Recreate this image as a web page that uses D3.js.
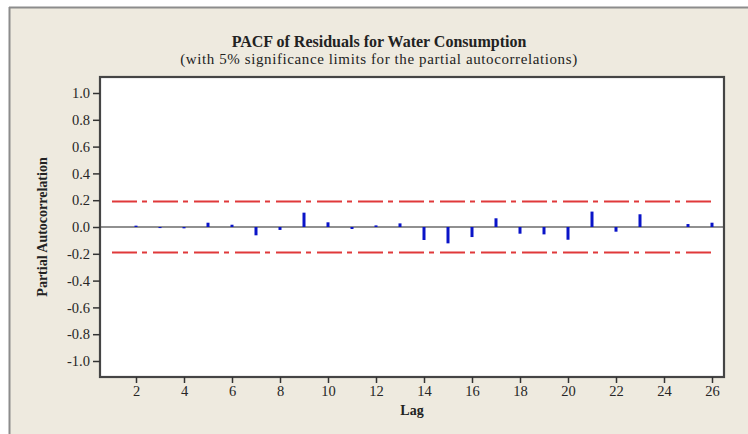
<!DOCTYPE html>
<html>
<head>
<meta charset="utf-8">
<script src="https://cdn.jsdelivr.net/npm/d3@7"></script>
<style>
  html, body { margin: 0; padding: 0; background: #ffffff; }
  svg { display: block; }
</style>
</head>
<body>
<svg id="chart" width="748" height="434"></svg>
<script>
// Partial autocorrelation of the residuals, lags 1..26
const lags = d3.range(1, 27);
const pacf = [0.000, 0.010, -0.008, -0.010, 0.032, 0.017, -0.062, -0.022, 0.107, 0.035,
              -0.015, 0.012, 0.027, -0.097, -0.122, -0.075, 0.065, -0.050, -0.055, -0.095,
              0.115, -0.035, 0.095, 0.000, 0.022, 0.032];
const significanceLimit = 0.19;
const xTickValues = [2, 4, 6, 8, 10, 12, 14, 16, 18, 20, 22, 24, 26];
const yTickValues = [1.0, 0.8, 0.6, 0.4, 0.2, 0.0, -0.2, -0.4, -0.6, -0.8, -1.0];

const titleText = "PACF of Residuals for Water Consumption";
const subtitleText = "(with 5% significance limits for the partial autocorrelations)";
const xLabel = "Lag";
const yLabel = "Partial Autocorrelation";

const svg = d3.select("#chart");
const serif = "'Liberation Serif', 'DejaVu Serif', serif";

// outer panel
svg.append("rect")
  .attr("x", 9).attr("y", 7).attr("width", 748 - 9).attr("height", 434 - 7)
  .attr("fill", "#eeeadf");
svg.append("line").attr("x1", 9.5).attr("x2", 9.5).attr("y1", 7).attr("y2", 434)
  .attr("stroke", "#8c8c8c").attr("stroke-width", 2);
svg.append("line").attr("x1", 9).attr("x2", 748).attr("y1", 7.5).attr("y2", 7.5)
  .attr("stroke", "#8c8c8c").attr("stroke-width", 2);

const plot = { left: 100, right: 724, top: 77, bottom: 377 };

const x = d3.scaleLinear().domain([0.5, 26.5]).range([plot.left, plot.right]);
const y = d3.scaleLinear().domain([-1.0, 1.0]).range([361, 93]);

// plot area
svg.append("rect")
  .attr("x", plot.left).attr("y", plot.top)
  .attr("width", plot.right - plot.left).attr("height", plot.bottom - plot.top)
  .attr("fill", "#ffffff");

// significance limits
[significanceLimit, -significanceLimit].forEach(v => {
  svg.append("line")
    .attr("x1", x(1)).attr("x2", x(26))
    .attr("y1", y(v)).attr("y2", y(v))
    .attr("stroke", "#e0393a").attr("stroke-width", 2)
    .attr("stroke-dasharray", "25,5,5,6");
});

// zero reference line
svg.append("line")
  .attr("x1", plot.left).attr("x2", plot.right)
  .attr("y1", y(0)).attr("y2", y(0))
  .attr("stroke", "#222222").attr("stroke-width", 1.2);

// PACF spikes
svg.append("g").selectAll("rect")
  .data(lags.map((l, i) => ({ lag: l, v: pacf[i] })))
  .join("rect")
  .attr("x", d => x(d.lag) - 1.5)
  .attr("width", 3)
  .attr("y", d => Math.min(y(d.v), y(0)))
  .attr("height", d => Math.abs(y(d.v) - y(0)))
  .attr("fill", "#0a14c8");

// plot frame
svg.append("rect")
  .attr("x", plot.left).attr("y", plot.top)
  .attr("width", plot.right - plot.left).attr("height", plot.bottom - plot.top)
  .attr("fill", "none").attr("stroke", "#454545").attr("stroke-width", 2.2);

// axes
const yAxis = d3.axisLeft(y).tickValues(yTickValues).tickSize(7).tickPadding(3)
  .tickFormat(d => d3.format(".1f")(d).replace("−", "-"));
const gy = svg.append("g").attr("transform", `translate(${plot.left},0)`).call(yAxis);
gy.select(".domain").remove();
gy.selectAll(".tick line").attr("stroke", "#333").attr("stroke-width", 1.5);
gy.selectAll("text").attr("font-family", serif).attr("font-size", 14.5).attr("fill", "#262626");

const xAxis = d3.axisBottom(x).tickValues(xTickValues).tickSize(6).tickPadding(3);
const gx = svg.append("g").attr("transform", `translate(0,${plot.bottom})`).call(xAxis);
gx.select(".domain").remove();
gx.selectAll(".tick line").attr("stroke", "#333").attr("stroke-width", 1.5);
gx.selectAll("text").attr("font-family", serif).attr("font-size", 14.5).attr("fill", "#262626");

// titles
svg.append("text")
  .attr("x", 379).attr("y", 47).attr("text-anchor", "middle")
  .attr("font-family", serif).attr("font-weight", "bold").attr("font-size", 16)
  .attr("fill", "#222").text(titleText);
svg.append("text")
  .attr("x", 379).attr("y", 64).attr("text-anchor", "middle")
  .attr("font-family", serif).attr("font-size", 15).attr("letter-spacing", 0.6)
  .attr("fill", "#222").text(subtitleText);
svg.append("text")
  .attr("x", (plot.left + plot.right) / 2).attr("y", 415).attr("text-anchor", "middle")
  .attr("font-family", serif).attr("font-weight", "bold").attr("font-size", 14)
  .attr("fill", "#222").text(xLabel);
svg.append("text")
  .attr("transform", `translate(47,${y(0)}) rotate(-90)`)
  .attr("text-anchor", "middle")
  .attr("font-family", serif).attr("font-weight", "bold").attr("font-size", 14)
  .attr("fill", "#222").text(yLabel);
</script>
</body>
</html>
